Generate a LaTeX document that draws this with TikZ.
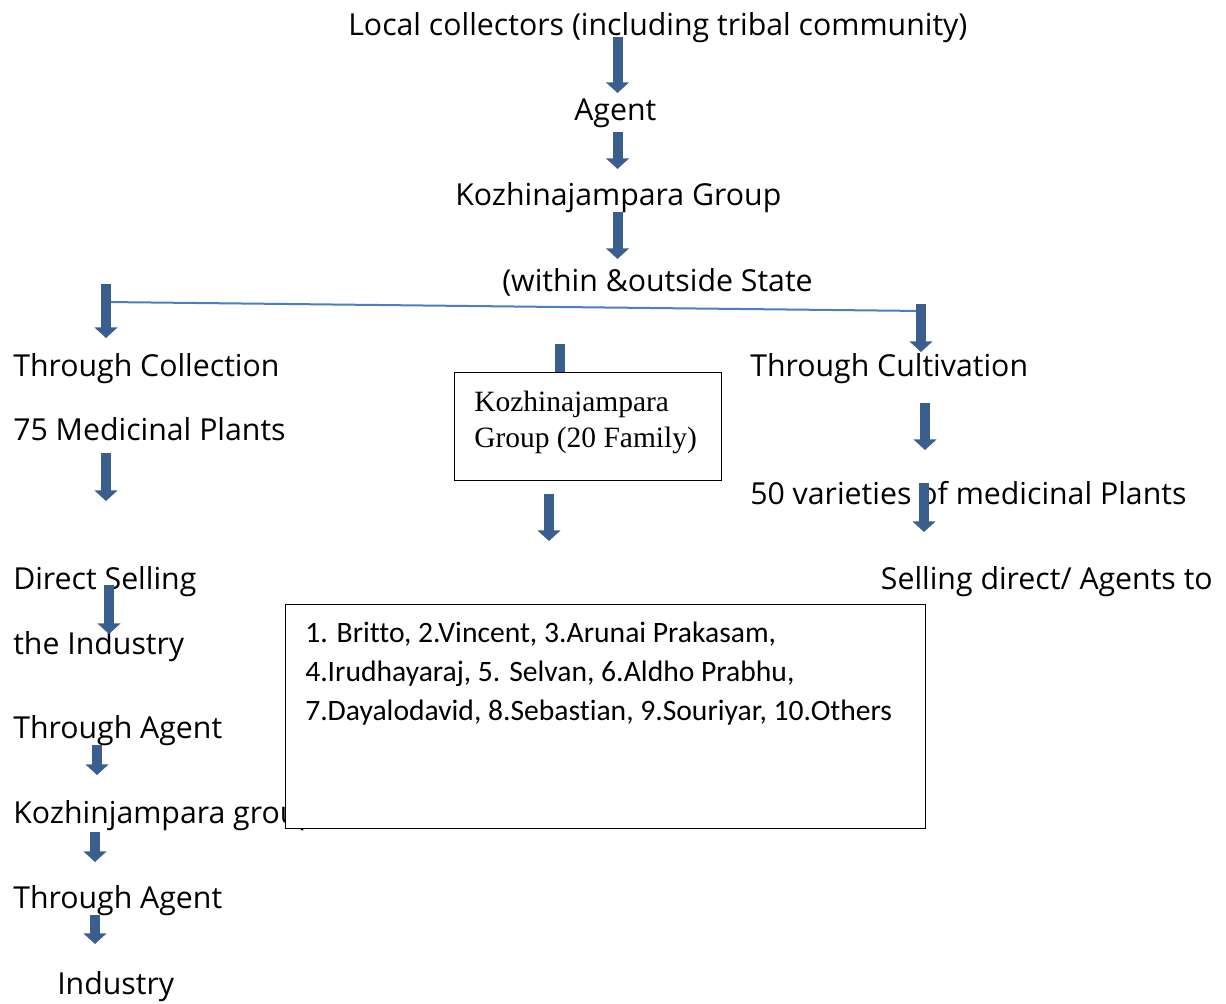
\documentclass[tikz,border=0pt]{standalone}
\usepackage{fontspec}
\setmainfont{Open Sans}
\newfontfamily\tnrfont{Liberation Serif}
\newfontfamily\calfont[Ligatures=CommonOff]{Carlito}
\usetikzlibrary{arrows.meta}
\definecolor{arrowblue}{HTML}{3A5F8F}
\definecolor{lineblue}{HTML}{4A7EC2}
\begin{document}
\begin{tikzpicture}[x=0.75pt,y=-0.75pt,
  lbl/.style={anchor=base west, inner sep=0pt, font=\fontsize{22.7}{27}\selectfont},
  barrow/.style={draw=arrowblue, line width=7.5pt, -{Triangle[width=17pt,length=8pt]}},
  stub/.style={draw=arrowblue, line width=7.5pt},
  splitline/.style={draw=lineblue, line width=1.5pt},
  boxframe/.style={draw=black, line width=0.9pt, anchor=north west, inner sep=0pt},
  serifbox/.style={anchor=base west, inner sep=0pt, align=left, font=\tnrfont\fontsize{22.1}{27}\selectfont},
  namelist/.style={anchor=base west, inner sep=0pt, align=left, font=\calfont\fontsize{22.2}{29}\selectfont}]
\useasboundingbox (0,0) rectangle (1226,1003);
% top chain
\node[lbl] (local) at (348,35) {Local collectors (including tribal community)};
\node[lbl] (agent) at (574,120) {Agent};
\node[lbl] (kgroup) at (455,205) {Kozhinajampara Group};
\node[lbl] (state) at (502,291) {(within \&outside State};
\coordinate (a1s) at (617.5,37); \coordinate (a1e) at (617.5,93);
\coordinate (a2s) at (617.5,132); \coordinate (a2e) at (617.5,169);
\coordinate (a3s) at (617.5,212); \coordinate (a3e) at (617.5,259);
\draw[barrow] (a1s) -- (a1e);
\draw[barrow] (a2s) -- (a2e);
\draw[barrow] (a3s) -- (a3e);
% split
\coordinate (sl) at (106,302); \coordinate (sr) at (923,311);
\draw[splitline] (sl) -- (sr);
\coordinate (lA) at (106,284); \coordinate (lB) at (106,338);
\coordinate (rA) at (921,304); \coordinate (rB) at (921,352);
\draw[barrow] (lA) -- (lB);
\draw[barrow] (rA) -- (rB);
% left column
\node[lbl] (tcoll) at (13,376) {Through Collection};
\node[lbl] (med75) at (13,440) {75 Medicinal Plants};
\draw[barrow] (106,453) -- (106,501);
\node[lbl] (dsell) at (13,589) {Direct Selling};
\node[lbl] (tind) at (13,654) {the Industry};
\draw[barrow] (109,585) -- (109,634);
\node[lbl] (tagent1) at (13,738) {Through Agent};
\draw[barrow] (97,745) -- (97,775);
\node[lbl] (kgrou) at (13,823) {Kozhinjampara group};
\draw[barrow] (95,832) -- (95,862);
\node[lbl] (tagent2) at (13,908) {Through Agent};
\draw[barrow] (95,915) -- (95,944);
\node[lbl] (industry) at (57,994) {Industry};
% middle
\node[boxframe, minimum width=200.25pt, minimum height=81pt] (kgbox) at (454,372) {};
\draw[stub] (560,344) -- (kgbox.north -| 560,0);
\node[serifbox] (kgtext) at (474,447) {Kozhinajampara\\Group (20 Family)};
\draw[barrow] (549,494) -- (549,541);
% right column
\node[lbl] (tcult) at (750,376) {Through Cultivation};
\draw[barrow] (925,403) -- (925,450);
\node[lbl] (var50) at (750,504) {50 varieties of medicinal Plants};
\draw[barrow] (924,483) -- (924,532);
\node[lbl, anchor=base east] (sdirect) at (1213,589) {Selling direct/ Agents to};
% names box
\node[boxframe, fill=white, minimum width=480pt, minimum height=168pt] (names) at (285,604) {};
\node[namelist] (namestext) at (305,720) {1. Britto, 2.Vincent, 3.Arunai Prakasam,\\4.Irudhayaraj, 5. Selvan, 6.Aldho Prabhu,\\7.Dayalodavid, 8.Sebastian, 9.Souriyar, 10.Others};
\end{tikzpicture}
\end{document}
